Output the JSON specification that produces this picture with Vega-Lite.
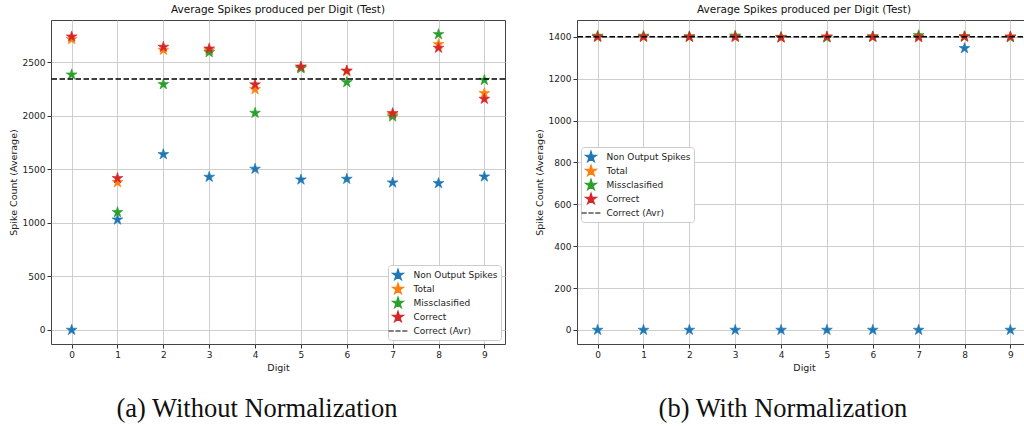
{
  "$schema": "https://vega.github.io/schema/vega-lite/v6.json",
  "background": "white",
  "padding": {"left": 7, "top": 4, "right": 0, "bottom": 0},
  "spacing": 26,
  "config": {
    "font": "DejaVu Sans",
    "view": {"stroke": "#444", "strokeWidth": 1},
    "axis": {
      "domain": false,
      "grid": true,
      "gridColor": "#c8c8c8",
      "gridWidth": 0.9,
      "tickColor": "#333",
      "tickSize": 4,
      "labelFontSize": 9,
      "labelColor": "#222",
      "labelPadding": 2,
      "titleFontSize": 9.5,
      "titleFontWeight": "normal",
      "titleColor": "#222"
    },
    "axisX": {"titlePadding": 3},
    "axisY": {"titlePadding": 4},
    "title": {"fontSize": 10.5, "fontWeight": "normal", "color": "#111", "offset": 5},
    "legend": {
      "title": null,
      "fillColor": "white",
      "strokeColor": "#cccccc",
      "cornerRadius": 3,
      "padding": 3.5,
      "labelFontSize": 9,
      "labelColor": "#222",
      "symbolSize": 130,
      "symbolStrokeWidth": 1.2,
      "rowPadding": -2.8,
      "labelOffset": 9
    }
  },
  "datasets": {
    "raw": [
      {"digit": 0, "series": "Non Output Spikes", "value": 0},
      {"digit": 1, "series": "Non Output Spikes", "value": 1031},
      {"digit": 2, "series": "Non Output Spikes", "value": 1642},
      {"digit": 3, "series": "Non Output Spikes", "value": 1430},
      {"digit": 4, "series": "Non Output Spikes", "value": 1505},
      {"digit": 5, "series": "Non Output Spikes", "value": 1405},
      {"digit": 6, "series": "Non Output Spikes", "value": 1411},
      {"digit": 7, "series": "Non Output Spikes", "value": 1377},
      {"digit": 8, "series": "Non Output Spikes", "value": 1371},
      {"digit": 9, "series": "Non Output Spikes", "value": 1433},
      {"digit": 0, "series": "Total", "value": 2717},
      {"digit": 1, "series": "Total", "value": 1380},
      {"digit": 2, "series": "Total", "value": 2617},
      {"digit": 3, "series": "Total", "value": 2612},
      {"digit": 4, "series": "Total", "value": 2249},
      {"digit": 5, "series": "Total", "value": 2452},
      {"digit": 6, "series": "Total", "value": 2418},
      {"digit": 7, "series": "Total", "value": 2012},
      {"digit": 8, "series": "Total", "value": 2670},
      {"digit": 9, "series": "Total", "value": 2212},
      {"digit": 0, "series": "Missclasified", "value": 2386},
      {"digit": 1, "series": "Missclasified", "value": 1100},
      {"digit": 2, "series": "Missclasified", "value": 2296},
      {"digit": 3, "series": "Missclasified", "value": 2595},
      {"digit": 4, "series": "Missclasified", "value": 2028},
      {"digit": 5, "series": "Missclasified", "value": 2445},
      {"digit": 6, "series": "Missclasified", "value": 2315},
      {"digit": 7, "series": "Missclasified", "value": 1994},
      {"digit": 8, "series": "Missclasified", "value": 2763},
      {"digit": 9, "series": "Missclasified", "value": 2336},
      {"digit": 0, "series": "Correct", "value": 2741},
      {"digit": 1, "series": "Correct", "value": 1418},
      {"digit": 2, "series": "Correct", "value": 2645},
      {"digit": 3, "series": "Correct", "value": 2629},
      {"digit": 4, "series": "Correct", "value": 2293},
      {"digit": 5, "series": "Correct", "value": 2461},
      {"digit": 6, "series": "Correct", "value": 2423},
      {"digit": 7, "series": "Correct", "value": 2025},
      {"digit": 8, "series": "Correct", "value": 2636},
      {"digit": 9, "series": "Correct", "value": 2159}
    ],
    "rawAvg": [{"series": "Correct (Avr)", "value": 2346}],
    "norm": [
      {"digit": 0, "series": "Non Output Spikes", "value": 0},
      {"digit": 1, "series": "Non Output Spikes", "value": 0},
      {"digit": 2, "series": "Non Output Spikes", "value": 0},
      {"digit": 3, "series": "Non Output Spikes", "value": 0},
      {"digit": 4, "series": "Non Output Spikes", "value": 0},
      {"digit": 5, "series": "Non Output Spikes", "value": 0},
      {"digit": 6, "series": "Non Output Spikes", "value": 0},
      {"digit": 7, "series": "Non Output Spikes", "value": 0},
      {"digit": 8, "series": "Non Output Spikes", "value": 1345},
      {"digit": 9, "series": "Non Output Spikes", "value": 0},
      {"digit": 0, "series": "Total", "value": 1400},
      {"digit": 1, "series": "Total", "value": 1400},
      {"digit": 2, "series": "Total", "value": 1400},
      {"digit": 3, "series": "Total", "value": 1400},
      {"digit": 4, "series": "Total", "value": 1398},
      {"digit": 5, "series": "Total", "value": 1400},
      {"digit": 6, "series": "Total", "value": 1400},
      {"digit": 7, "series": "Total", "value": 1400},
      {"digit": 8, "series": "Total", "value": 1402},
      {"digit": 9, "series": "Total", "value": 1400},
      {"digit": 0, "series": "Missclasified", "value": 1404},
      {"digit": 1, "series": "Missclasified", "value": 1404},
      {"digit": 2, "series": "Missclasified", "value": 1401},
      {"digit": 3, "series": "Missclasified", "value": 1405},
      {"digit": 4, "series": "Missclasified", "value": 1398},
      {"digit": 5, "series": "Missclasified", "value": 1396},
      {"digit": 6, "series": "Missclasified", "value": 1401},
      {"digit": 7, "series": "Missclasified", "value": 1407},
      {"digit": 8, "series": "Missclasified", "value": 1401},
      {"digit": 9, "series": "Missclasified", "value": 1397},
      {"digit": 0, "series": "Correct", "value": 1399},
      {"digit": 1, "series": "Correct", "value": 1399},
      {"digit": 2, "series": "Correct", "value": 1399},
      {"digit": 3, "series": "Correct", "value": 1399},
      {"digit": 4, "series": "Correct", "value": 1396},
      {"digit": 5, "series": "Correct", "value": 1400},
      {"digit": 6, "series": "Correct", "value": 1399},
      {"digit": 7, "series": "Correct", "value": 1397},
      {"digit": 8, "series": "Correct", "value": 1400},
      {"digit": 9, "series": "Correct", "value": 1400}
    ],
    "normAvg": [{"series": "Correct (Avr)", "value": 1400}]
  },
  "resolve": {"scale": {"color": "independent", "stroke": "independent", "shape": "independent"}},
  "hconcat": [
    {
      "title": {"text": "(a) Without Normalization", "orient": "bottom", "anchor": "middle", "font": "Liberation Serif", "fontSize": 26.5, "color": "#111", "offset": 24},
      "resolve": {"scale": {"color": "independent", "stroke": "independent", "shape": "independent"}},
      "vconcat": [
        {
          "title": "Average Spikes produced per Digit (Test)",
          "width": 454,
          "height": 324,
          "layer": [
            {
              "data": {"name": "raw"},
              "mark": {"type": "point", "filled": true, "opacity": 1, "size": 130, "strokeWidth": 0.6},
              "encoding": {
                "x": {"field": "digit", "type": "quantitative", "title": "Digit",
                      "scale": {"domain": [-0.45, 9.45], "nice": false, "zero": false},
                      "axis": {"values": [0, 1, 2, 3, 4, 5, 6, 7, 8, 9], "format": "d"}},
                "y": {"field": "value", "type": "quantitative", "title": "Spike Count (Average)",
                      "scale": {"domain": [-131, 2897], "nice": false, "zero": false},
                      "axis": {"values": [0, 500, 1000, 1500, 2000, 2500], "format": "d"}},
                "color": {"field": "series", "type": "nominal",
                          "scale": {"domain": ["Non Output Spikes", "Total", "Missclasified", "Correct", "Correct (Avr)"],
                                    "range": ["#1f77b4", "#ff7f0e", "#2ca02c", "#d62728", "#000000"]},
                          "legend": {"orient": "bottom-right", "offset": 4}},
                "stroke": {"field": "series", "type": "nominal",
                           "scale": {"domain": ["Non Output Spikes", "Total", "Missclasified", "Correct", "Correct (Avr)"],
                                     "range": ["#1f77b4", "#ff7f0e", "#2ca02c", "#d62728", "#000000"]},
                           "legend": {"orient": "bottom-right", "offset": 4}},
                "shape": {"field": "series", "type": "nominal",
                          "scale": {"domain": ["Non Output Spikes", "Total", "Missclasified", "Correct", "Correct (Avr)"],
                                    "range": [
                                      "M0,-1L0.225,-0.309L0.951,-0.309L0.363,0.118L0.588,0.809L0,0.382L-0.588,0.809L-0.363,0.118L-0.951,-0.309L-0.225,-0.309Z",
                                      "M0,-1L0.225,-0.309L0.951,-0.309L0.363,0.118L0.588,0.809L0,0.382L-0.588,0.809L-0.363,0.118L-0.951,-0.309L-0.225,-0.309Z",
                                      "M0,-1L0.225,-0.309L0.951,-0.309L0.363,0.118L0.588,0.809L0,0.382L-0.588,0.809L-0.363,0.118L-0.951,-0.309L-0.225,-0.309Z",
                                      "M0,-1L0.225,-0.309L0.951,-0.309L0.363,0.118L0.588,0.809L0,0.382L-0.588,0.809L-0.363,0.118L-0.951,-0.309L-0.225,-0.309Z",
                                      "M-1.65,0H-0.75M-0.45,0H0.45M0.75,0H1.65"
                                    ]},
                          "legend": {"orient": "bottom-right", "offset": 4}}
              }
            },
            {
              "data": {"name": "rawAvg"},
              "mark": {"type": "rule", "strokeDash": [5.5, 2.5], "strokeWidth": 1.5},
              "encoding": {
                "y": {"field": "value", "type": "quantitative", "title": "Spike Count (Average)"},
                "color": {"field": "series", "type": "nominal"}
              }
            }
          ]
        }
      ]
    },
    {
      "title": {"text": "(b) With Normalization", "orient": "bottom", "anchor": "middle", "font": "Liberation Serif", "fontSize": 26.5, "color": "#111", "offset": 24},
      "resolve": {"scale": {"color": "independent", "stroke": "independent", "shape": "independent"}},
      "vconcat": [
        {
          "title": "Average Spikes produced per Digit (Test)",
          "width": 454,
          "height": 324,
          "layer": [
            {
              "data": {"name": "norm"},
              "mark": {"type": "point", "filled": true, "opacity": 1, "size": 130, "strokeWidth": 0.6},
              "encoding": {
                "x": {"field": "digit", "type": "quantitative", "title": "Digit",
                      "scale": {"domain": [-0.45, 9.45], "nice": false, "zero": false},
                      "axis": {"values": [0, 1, 2, 3, 4, 5, 6, 7, 8, 9], "format": "d"}},
                "y": {"field": "value", "type": "quantitative", "title": "Spike Count (Average)",
                      "scale": {"domain": [-67, 1480], "nice": false, "zero": false},
                      "axis": {"values": [0, 200, 400, 600, 800, 1000, 1200, 1400], "format": "d"}},
                "color": {"field": "series", "type": "nominal",
                          "scale": {"domain": ["Non Output Spikes", "Total", "Missclasified", "Correct", "Correct (Avr)"],
                                    "range": ["#1f77b4", "#ff7f0e", "#2ca02c", "#d62728", "#000000"]},
                          "legend": {"orient": "none", "legendX": 4, "legendY": 127}},
                "stroke": {"field": "series", "type": "nominal",
                           "scale": {"domain": ["Non Output Spikes", "Total", "Missclasified", "Correct", "Correct (Avr)"],
                                     "range": ["#1f77b4", "#ff7f0e", "#2ca02c", "#d62728", "#000000"]},
                           "legend": {"orient": "none", "legendX": 4, "legendY": 127}},
                "shape": {"field": "series", "type": "nominal",
                          "scale": {"domain": ["Non Output Spikes", "Total", "Missclasified", "Correct", "Correct (Avr)"],
                                    "range": [
                                      "M0,-1L0.225,-0.309L0.951,-0.309L0.363,0.118L0.588,0.809L0,0.382L-0.588,0.809L-0.363,0.118L-0.951,-0.309L-0.225,-0.309Z",
                                      "M0,-1L0.225,-0.309L0.951,-0.309L0.363,0.118L0.588,0.809L0,0.382L-0.588,0.809L-0.363,0.118L-0.951,-0.309L-0.225,-0.309Z",
                                      "M0,-1L0.225,-0.309L0.951,-0.309L0.363,0.118L0.588,0.809L0,0.382L-0.588,0.809L-0.363,0.118L-0.951,-0.309L-0.225,-0.309Z",
                                      "M0,-1L0.225,-0.309L0.951,-0.309L0.363,0.118L0.588,0.809L0,0.382L-0.588,0.809L-0.363,0.118L-0.951,-0.309L-0.225,-0.309Z",
                                      "M-1.65,0H-0.75M-0.45,0H0.45M0.75,0H1.65"
                                    ]},
                          "legend": {"orient": "none", "legendX": 4, "legendY": 127}}
              }
            },
            {
              "data": {"name": "normAvg"},
              "mark": {"type": "rule", "strokeDash": [5.5, 2.5], "strokeWidth": 1.5},
              "encoding": {
                "y": {"field": "value", "type": "quantitative", "title": "Spike Count (Average)"},
                "color": {"field": "series", "type": "nominal"}
              }
            }
          ]
        }
      ]
    }
  ]
}
